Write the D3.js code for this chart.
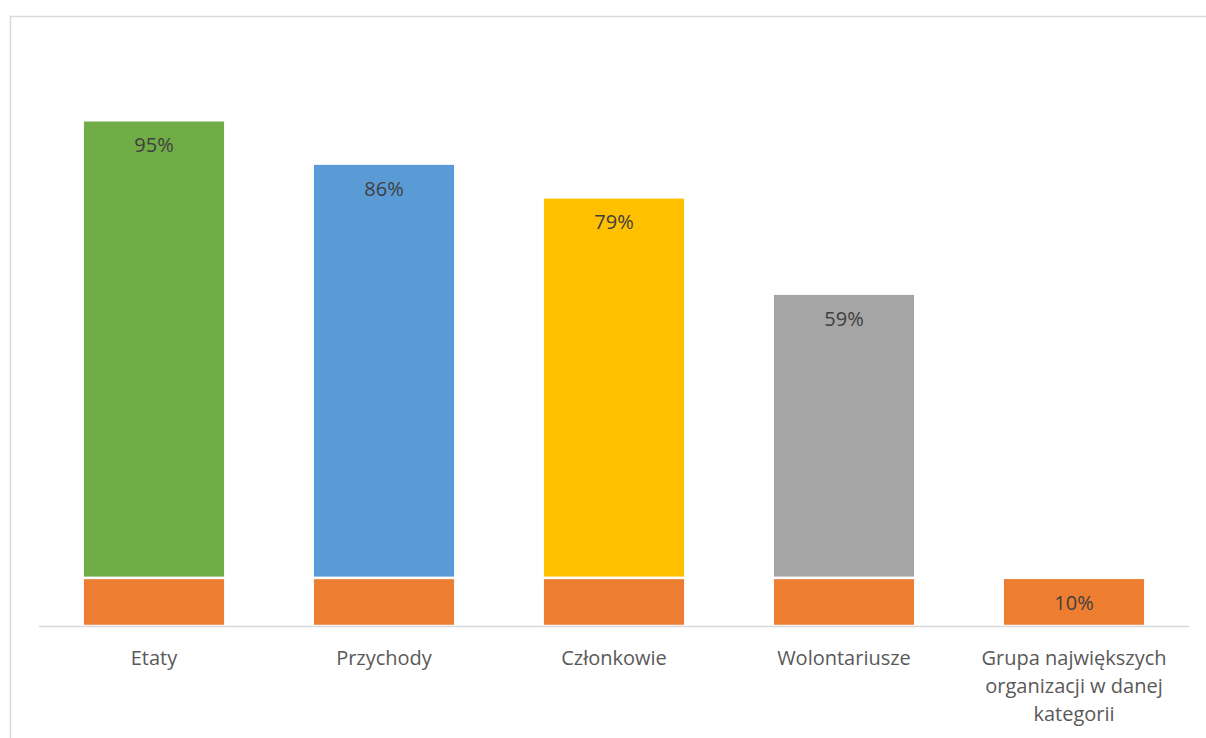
<!DOCTYPE html>
<html>
<head>
<meta charset="utf-8">
<script src="https://cdn.jsdelivr.net/npm/d3@7"></script>
<style>
  body { margin: 0; background: #fff; }
  text { font-family: "Open Sans", sans-serif; }
</style>
</head>
<body>
<div id="chart"></div>
<script>
// Data
const categories = ["Etaty", "Przychody", "Członkowie", "Wolontariusze", "Grupa największych organizacji w danej kategorii"];
const baseValues = [10, 10, 10, 10, 10];
const topValues = [95, 86, 79, 59, 0];
const topColors = ["#70AD47", "#5B9BD5", "#FFC000", "#A5A5A5", "#ED7D31"];
const baseColor = "#ED7D31";
const yMax = 120;

const W = 1206, H = 738;
const margin = { top: 48, bottom: 112, left: 39, right: 17 };
const width = W - margin.left - margin.right;
const height = H - margin.top - margin.bottom;

const svg = d3.select("#chart").append("svg").attr("width", W).attr("height", H);

// outer frame (only top and left visible)
svg.append("path")
  .attr("d", `M10.5,${H} V16.5 H${W}`)
  .attr("fill", "none")
  .attr("stroke", "#D9D9D9")
  .attr("stroke-width", 1.5);

const g = svg.append("g").attr("transform", `translate(${margin.left},${margin.top})`);

const x = d3.scaleBand().domain(categories).range([0, width]).paddingInner(0.38).paddingOuter(0.19);
const y = d3.scaleLinear().domain([0, yMax]).range([height, 0]);

const rows = categories.map((c, i) => ({ cat: c, base: baseValues[i], top: topValues[i], color: topColors[i] }));
const stack = d3.stack().keys(["base", "top"])(rows);

// bars
g.selectAll("g.layer")
  .data(stack)
  .join("g")
  .attr("class", "layer")
  .selectAll("rect")
  .data((layer) => layer.map((d) => ({ key: layer.key, d0: d[0], d1: d[1], data: d.data })).filter((d) => d.d1 > d.d0))
  .join("rect")
  .attr("x", (d) => x(d.data.cat))
  .attr("width", x.bandwidth())
  .attr("y", (d) => y(d.d1))
  .attr("height", (d) => y(d.d0) - y(d.d1))
  .attr("fill", (d) => (d.key === "base" ? baseColor : d.data.color))
  .attr("stroke", "#fff")
  .attr("stroke-width", 2.5);

// value labels (inside end)
const labels = [];
rows.forEach((r) => {
  if (r.top > 0) labels.push({ cat: r.cat, v: r.top, end: r.base + r.top });
  else labels.push({ cat: r.cat, v: r.base, end: r.base });
});
g.selectAll("text.val")
  .data(labels)
  .join("text")
  .attr("class", "val")
  .attr("x", (d) => x(d.cat) + x.bandwidth() / 2)
  .attr("y", (d) => y(d.end) + 25)
  .attr("dy", "0.35em")
  .attr("text-anchor", "middle")
  .attr("fill", "#404040")
  .style("font-size", "20px")
  .text((d) => d.v + "%");

// baseline
g.append("line")
  .attr("x1", 0).attr("x2", width)
  .attr("y1", height + 0.5).attr("y2", height + 0.5)
  .attr("stroke", "#D9D9D9")
  .attr("stroke-width", 1.5);

// category labels with wrapping
const maxLabelWidth = 205;
g.selectAll("text.cat")
  .data(categories)
  .join("text")
  .attr("class", "cat")
  .attr("text-anchor", "middle")
  .attr("fill", "#595959")
  .style("font-size", "20px")
  .each(function (d) {
    const t = d3.select(this);
    const cx = x(d) + x.bandwidth() / 2;
    const words = d.split(" ");
    const lines = [];
    let line = [];
    const tmp = t.append("tspan");
    words.forEach((w) => {
      line.push(w);
      tmp.text(line.join(" "));
      if (tmp.node().getComputedTextLength() > maxLabelWidth && line.length > 1) {
        line.pop();
        lines.push(line.join(" "));
        line = [w];
      }
    });
    lines.push(line.join(" "));
    tmp.remove();
    lines.forEach((l, i) => {
      t.append("tspan")
        .attr("x", cx)
        .attr("y", height + 32 + i * 28)
        .attr("dy", "0.35em")
        .text(l);
    });
  });
</script>
</body>
</html>
